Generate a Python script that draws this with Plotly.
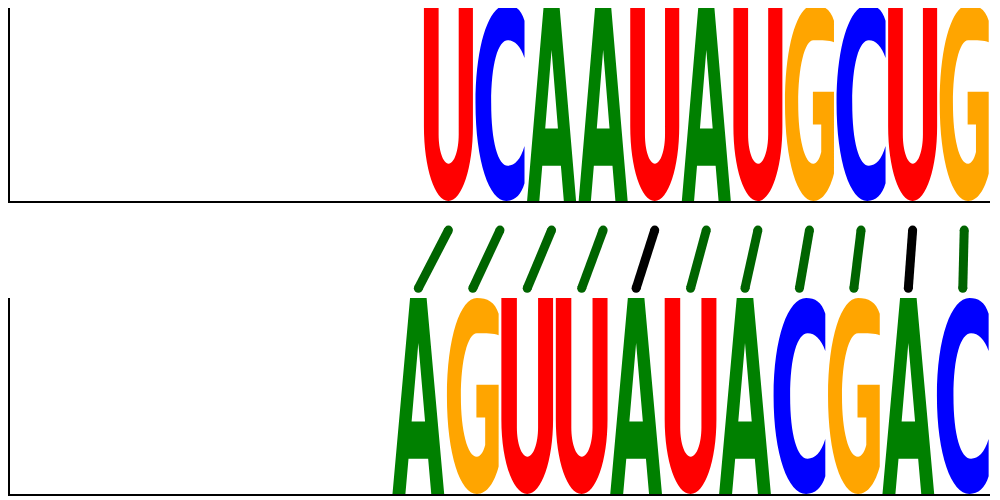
import plotly.graph_objects as go

# top logo: sequence and where it sits on its axis
top_seq = "UCAAUAUGCUG"
top_start = 8
top_positions = 19

# bottom logo
bottom_seq = "AGUUAUACGAC"
bottom_start = 7
bottom_positions = 18

# base pairs: top index -> bottom index, and the line colour
pair_top = [8, 9, 10, 11, 12, 13, 14, 15, 16, 17, 18]
pair_bottom = [7, 8, 9, 10, 11, 12, 13, 14, 15, 16, 17]
pair_colors = ["darkgreen", "darkgreen", "darkgreen", "darkgreen", "black",
               "darkgreen", "darkgreen", "darkgreen", "darkgreen", "black", "darkgreen"]

letter_colors = {"A": "#008000", "C": "#0000ff", "G": "#ffa500", "U": "#ff0000"}

# glyph outlines in a unit box
GLYPHS = {
    "A": [("M", [(0, 0)]), ("L", [(0.34, 1)]), ("L", [(0.66, 1)]), ("L", [(1, 0)]),
          ("L", [(0.75, 0)]), ("L", [(0.69, 0.18)]), ("L", [(0.31, 0.18)]), ("L", [(0.25, 0)]), ("Z", []),
          ("M", [(0.5, 0.77)]), ("L", [(0.37, 0.37)]), ("L", [(0.63, 0.37)]), ("Z", [])],
    "U": [("M", [(0, 1)]), ("L", [(0, 0.38)]),
          ("C", [(0, 0.17), (0.224, 0), (0.5, 0)]),
          ("C", [(0.776, 0), (1, 0.17), (1, 0.38)]),
          ("L", [(1, 1)]), ("L", [(0.71, 1)]), ("L", [(0.71, 0.34)]),
          ("C", [(0.71, 0.257), (0.618, 0.19), (0.505, 0.19)]),
          ("C", [(0.392, 0.19), (0.30, 0.257), (0.30, 0.34)]),
          ("L", [(0.30, 1)]), ("Z", [])],
    "C": [("M", [(1, 0.92)]),
          ("C", [(0.93, 0.98), (0.8, 1), (0.63, 1)]),
          ("C", [(0.28, 1), (0, 0.8), (0, 0.5)]),
          ("C", [(0, 0.2), (0.28, 0), (0.63, 0)]),
          ("C", [(0.8, 0), (0.93, 0.03), (1, 0.09)]),
          ("L", [(1, 0.28)]),
          ("C", [(0.92, 0.21), (0.8, 0.18), (0.66, 0.18)]),
          ("C", [(0.46, 0.18), (0.32, 0.3), (0.32, 0.5)]),
          ("C", [(0.32, 0.7), (0.46, 0.82), (0.66, 0.82)]),
          ("C", [(0.8, 0.82), (0.92, 0.79), (1, 0.73)]),
          ("Z", [])],
    "G": [("M", [(1, 0.92)]),
          ("C", [(0.93, 0.98), (0.78, 1), (0.58, 1)]),
          ("C", [(0.26, 1), (0, 0.8), (0, 0.5)]),
          ("C", [(0, 0.2), (0.26, 0), (0.58, 0)]),
          ("C", [(0.78, 0), (0.92, 0.06), (1, 0.14)]),
          ("L", [(1, 0.557)]), ("L", [(0.57, 0.557)]), ("L", [(0.57, 0.39)]),
          ("L", [(0.74, 0.39)]), ("L", [(0.74, 0.25)]),
          ("C", [(0.7, 0.21), (0.64, 0.19), (0.58, 0.19)]),
          ("C", [(0.4, 0.19), (0.27, 0.32), (0.27, 0.5)]),
          ("C", [(0.27, 0.68), (0.4, 0.82), (0.58, 0.82)]),
          ("C", [(0.76, 0.82), (0.9, 0.82), (1, 0.81)]),
          ("Z", [])],
}

WIDTH = 0.95

# the page puts the figure 8px in from the window edge
OFFSET = 8
FIG_W, FIG_H = 1000 - OFFSET, 500 - OFFSET


def xdom(left, right):
    return [(left - OFFSET) / FIG_W, (right - OFFSET) / FIG_W]


def ydom(top, bottom):
    top = max(top, OFFSET)
    return [1 - (bottom - OFFSET) / FIG_H, 1 - (top - OFFSET) / FIG_H]


def glyph_path(letter, center, height):
    x0 = center - WIDTH / 2
    parts = []
    for cmd, pts in GLYPHS[letter]:
        coords = " ".join("%.4f,%.4f" % (x0 + px * WIDTH, py * height) for px, py in pts)
        parts.append(cmd + (" " + coords if coords else ""))
    return " ".join(parts)


def logo_shapes(seq, start, xref, yref):
    shapes = []
    for i, letter in enumerate(seq):
        shapes.append(dict(type="path", path=glyph_path(letter, start + i, 1.0),
                           xref=xref, yref=yref, fillcolor=letter_colors[letter],
                           line=dict(width=0), layer="above"))
    return shapes


fig = go.Figure()

shapes = logo_shapes(top_seq, top_start, "x", "y") + logo_shapes(bottom_seq, bottom_start, "x2", "y2")

# pair lines live on the middle axis, which shares the top x scale
for t, b, col in zip(pair_top, pair_bottom, pair_colors):
    xb = -0.5 + top_positions * (b + 0.5) / bottom_positions
    fig.add_trace(go.Scatter(x=[t, xb], y=[0.70, 0.10], xaxis="x3", yaxis="y3",
                             mode="lines+markers", line=dict(color=col, width=9),
                             marker=dict(color=col, size=9), hoverinfo="skip",
                             showlegend=False))

# keep empty axes alive
fig.add_trace(go.Scatter(x=[None], y=[None], xaxis="x", yaxis="y", showlegend=False))
fig.add_trace(go.Scatter(x=[None], y=[None], xaxis="x2", yaxis="y2", showlegend=False))

axis_common = dict(showgrid=False, zeroline=False, showticklabels=False, ticks="",
                   fixedrange=True)
spine = dict(showline=True, linecolor="black", linewidth=1.5)

# top panel would start at 5px; the part above the page margin is cut off
top_y_max = (201 - OFFSET) / (201 - 5)

fig.update_layout(
    width=FIG_W, height=FIG_H,
    margin=dict(l=0, r=0, t=0, b=0),
    paper_bgcolor="white", plot_bgcolor="white",
    shapes=shapes,
    xaxis=dict(domain=xdom(10, 990), range=[-0.5, top_positions - 0.5], anchor="y", **axis_common, **spine),
    yaxis=dict(domain=ydom(5, 201), range=[0, top_y_max], anchor="x", **axis_common, **spine),
    xaxis2=dict(domain=xdom(10, 990), range=[-0.5, bottom_positions - 0.5], anchor="y2", **axis_common, **spine),
    yaxis2=dict(domain=ydom(298, 494), range=[0, 1], anchor="x2", **axis_common, **spine),
    xaxis3=dict(domain=xdom(10, 990), range=[-0.5, top_positions - 0.5], anchor="y3", visible=False),
    yaxis3=dict(domain=ydom(201, 298), range=[0, 1], anchor="x3", visible=False),
)

fig.write_html("out.html")
